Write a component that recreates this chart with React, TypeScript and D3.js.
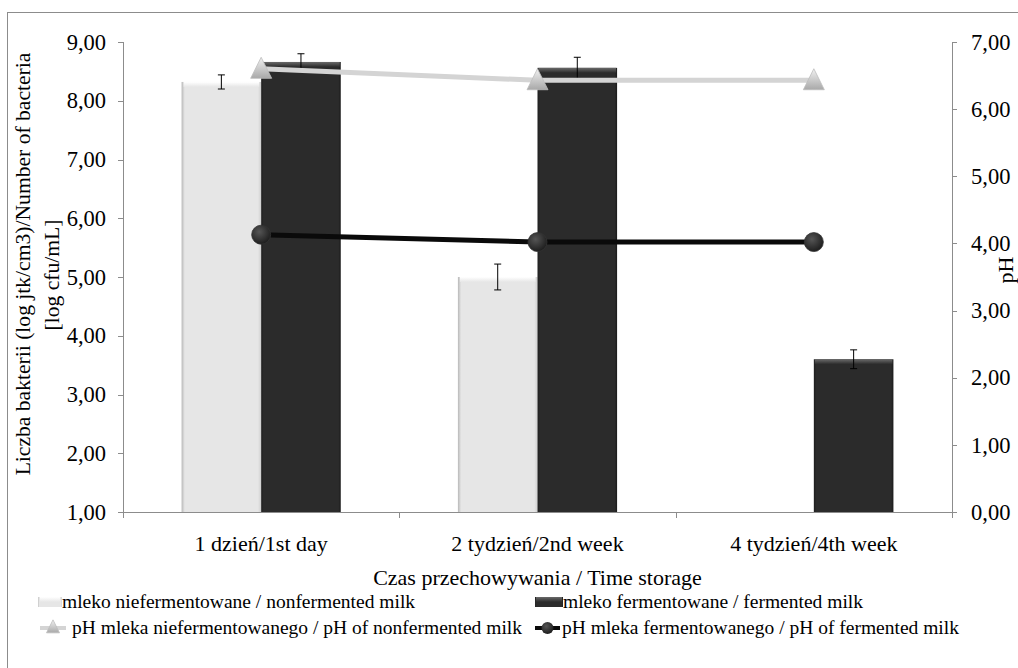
import React from "react";
import * as d3 from "d3";

const categories = ["1 dzień/1st day", "2 tydzień/2nd week", "4 tydzień/4th week"];
const nonfermented: (number | null)[] = [8.32, 5.0, null];
const nonfermentedErr: (number | null)[] = [0.12, 0.22, null];
const fermented = [8.66, 8.56, 3.6];
const fermentedErr = [0.14, 0.18, 0.16];
const phNonfermented = [6.6, 6.43, 6.43];
const phFermented = [4.13, 4.02, 4.02];
const leftTicks = [1, 2, 3, 4, 5, 6, 7, 8, 9];
const rightTicks = [0, 1, 2, 3, 4, 5, 6, 7];
const legendLabels = [
  "mleko niefermentowane / nonfermented milk",
  "mleko fermentowane / fermented milk",
  "pH mleka niefermentowanego / pH of nonfermented milk",
  "pH mleka fermentowanego / pH of fermented milk",
];
const xTitle = "Czas przechowywania / Time storage";
const yTitle1 = "Liczba bakterii (log jtk/cm3)/Number of bacteria";
const yTitle2 = "[log cfu/mL]";
const y2Title = "pH";

const W = 1018, H = 668;
const L = 123, R = 952, T = 42, B = 512;
const FONT = '"Liberation Serif", "DejaVu Serif", serif';
const fmt = (v: number) => v.toFixed(2).replace(".", ",");

export default function App() {
  const x0 = d3.scaleBand<string>().domain(categories).range([L, R]);
  const gw = x0.bandwidth() * 0.576;
  const x1 = d3.scaleBand<string>().domain(["n", "f"]).range([0, gw]);
  const yL = d3.scaleLinear().domain([1, 9]).range([B, T]);
  const yR = d3.scaleLinear().domain([0, 7]).range([B, T]);
  const cx = (c: string) => (x0(c) ?? 0) + x0.bandwidth() / 2;
  const bx = (c: string, s: string) => cx(c) - gw / 2 + (x1(s) ?? 0);
  const bw = x1.bandwidth();
  const line = d3.line<[number, number]>().x((d) => d[0]).y((d) => d[1]);
  const phNPts: [number, number][] = categories.map((c, i) => [cx(c), yR(phNonfermented[i])]);
  const phFPts: [number, number][] = categories.map((c, i) => [cx(c), yR(phFermented[i])]);

  const tri = (x: number, y: number, s: number) =>
    `M${x},${y - s * 0.55}L${x + s * 0.5},${y + s * 0.45}L${x - s * 0.5},${y + s * 0.45}Z`;

  const errBar = (x: number, v: number, e: number, key: string) => (
    <g key={key} stroke="#000" strokeWidth={1}>
      <line x1={x} x2={x} y1={yL(v + e)} y2={yL(v - e)} />
      <line x1={x - 3.5} x2={x + 3.5} y1={yL(v + e)} y2={yL(v + e)} />
      <line x1={x - 3.5} x2={x + 3.5} y1={yL(v - e)} y2={yL(v - e)} />
    </g>
  );

  const lightBar = (x: number, y: number, w: number, h: number, key: string) => (
    <g key={key}>
      <rect x={x} y={y} width={w} height={h} fill="url(#lightG)" />
      <rect x={x + 2} y={y} width={w - 4} height={5} fill="url(#lightTop)" />
    </g>
  );
  const darkBar = (x: number, y: number, w: number, h: number, key: string) => (
    <g key={key}>
      <rect x={x} y={y} width={w} height={h} fill="url(#darkG)" />
      <rect x={x + 1} y={y} width={w - 2} height={5} fill="url(#darkTop)" />
    </g>
  );

  return (
    <svg width={W} height={H} style={{ position: "absolute", left: 0, top: 0, fontFamily: FONT }}>
      <defs>
        <linearGradient id="lightG" x1="0" x2="1" y1="0" y2="0">
          <stop offset="0" stopColor="#b8b8b8" />
          <stop offset="0.04" stopColor="#e6e6e6" />
          <stop offset="0.96" stopColor="#e6e6e6" />
          <stop offset="1" stopColor="#cfcfcf" />
        </linearGradient>
        <linearGradient id="lightTop" x1="0" x2="0" y1="0" y2="1">
          <stop offset="0" stopColor="#ffffff" />
          <stop offset="1" stopColor="#e6e6e6" />
        </linearGradient>
        <linearGradient id="darkG" x1="0" x2="1" y1="0" y2="0">
          <stop offset="0" stopColor="#1e1e1e" />
          <stop offset="0.03" stopColor="#2b2b2b" />
          <stop offset="0.97" stopColor="#2b2b2b" />
          <stop offset="1" stopColor="#1a1a1a" />
        </linearGradient>
        <linearGradient id="darkTop" x1="0" x2="0" y1="0" y2="1">
          <stop offset="0" stopColor="#6a6a6a" />
          <stop offset="1" stopColor="#2b2b2b" />
        </linearGradient>
        <linearGradient id="triG" x1="0" x2="0" y1="0" y2="1">
          <stop offset="0" stopColor="#f2f2f2" />
          <stop offset="1" stopColor="#a8a8a8" />
        </linearGradient>
        <radialGradient id="circG" cx="0.4" cy="0.35" r="0.7">
          <stop offset="0" stopColor="#555" />
          <stop offset="1" stopColor="#1a1a1a" />
        </radialGradient>
      </defs>
      <rect x={0} y={0} width={W} height={H} fill="#fff" />
      <rect x={7.5} y={12.5} width={1200} height={900} fill="none" stroke="#8c8c8c" />

      {/* bars */}
      {categories.map((c, i) => {
        const v = nonfermented[i];
        return v == null ? null : lightBar(bx(c, "n"), yL(v), bw, B - yL(v), "n" + i);
      })}
      {categories.map((c, i) => darkBar(bx(c, "f"), yL(fermented[i]), bw, B - yL(fermented[i]), "f" + i))}
      {categories.map((c, i) => {
        const v = nonfermented[i];
        const e = nonfermentedErr[i];
        return v == null || e == null ? null : errBar(bx(c, "n") + bw / 2, v, e, "en" + i);
      })}
      {categories.map((c, i) => errBar(bx(c, "f") + bw / 2, fermented[i], fermentedErr[i], "ef" + i))}

      {/* axes */}
      <g stroke="#8c8c8c" strokeWidth={1} fill="none">
        <line x1={L + 0.5} x2={L + 0.5} y1={T} y2={B} />
        <line x1={R + 0.5} x2={R + 0.5} y1={T} y2={B} />
        <line x1={L} x2={R} y1={B + 0.5} y2={B + 0.5} />
        {leftTicks.map((t) => (
          <line key={"lt" + t} x1={L - 5} x2={L} y1={Math.round(yL(t)) + 0.5} y2={Math.round(yL(t)) + 0.5} />
        ))}
        {rightTicks.map((t) => (
          <line key={"rt" + t} x1={R} x2={R + 5} y1={Math.round(yR(t)) + 0.5} y2={Math.round(yR(t)) + 0.5} />
        ))}
        {[...categories.map((c) => x0(c) ?? 0), R].map((xv, i) => (
          <line key={"xt" + i} x1={Math.round(xv) + 0.5} x2={Math.round(xv) + 0.5} y1={B} y2={B + 6} />
        ))}
      </g>

      {/* pH lines */}
      <path d={line(phNPts) ?? ""} fill="none" stroke="#d4d4d4" strokeWidth={5} />
      {phNPts.map((p, i) => (
        <path key={"tri" + i} d={tri(p[0], p[1], 21)} fill="url(#triG)" stroke="#bdbdbd" strokeWidth={0.8} />
      ))}
      <path d={line(phFPts) ?? ""} fill="none" stroke="#0a0a0a" strokeWidth={5} />
      {phFPts.map((p, i) => (
        <circle key={"c" + i} cx={p[0]} cy={p[1]} r={9.5} fill="url(#circG)" stroke="#333" strokeWidth={0.8} />
      ))}

      {/* tick labels */}
      <g fontSize={22.5} fill="#000">
        {leftTicks.map((t) => (
          <text key={"ltl" + t} x={L - 17} y={yL(t)} dy="0.34em" textAnchor="end">
            {fmt(t)}
          </text>
        ))}
        {rightTicks.map((t) => (
          <text key={"rtl" + t} x={R + 19} y={yR(t)} dy="0.34em" textAnchor="start">
            {fmt(t)}
          </text>
        ))}
      </g>
      <g fontSize={22} fill="#000">
        {categories.map((c) => (
          <text key={"cl" + c} x={cx(c)} y={551} textAnchor="middle">
            {c}
          </text>
        ))}
        <text x={(L + R) / 2} y={585} textAnchor="middle">
          {xTitle}
        </text>
        <text transform="translate(30,264) rotate(-90)" fontSize={21.6} textAnchor="middle">
          {yTitle1}
        </text>
        <text transform="translate(59,275) rotate(-90)" fontSize={21.6} textAnchor="middle">
          {yTitle2}
        </text>
        <text transform="translate(1013,270) rotate(-90)" textAnchor="middle">
          {y2Title}
        </text>
      </g>

      {/* legend */}
      <g fontSize={19.5} fill="#000">
        {lightBar(38, 597, 24, 10, "lg1")}
        <text x={62} y={608}>{legendLabels[0]}</text>
        {darkBar(535, 597, 28, 10, "lg2")}
        <text x={563} y={608}>{legendLabels[1]}</text>
        <line x1={40} x2={66} y1={628} y2={628} stroke="#d4d4d4" strokeWidth={4} />
        <path d={tri(53, 627, 13)} fill="url(#triG)" stroke="#bdbdbd" strokeWidth={0.8} />
        <text x={72} y={634}>{legendLabels[2]}</text>
        <line x1={535} x2={560} y1={628} y2={628} stroke="#0a0a0a" strokeWidth={4} />
        <circle cx={547.5} cy={628} r={6} fill="url(#circG)" />
        <text x={562} y={634}>{legendLabels[3]}</text>
      </g>
    </svg>
  );
}
